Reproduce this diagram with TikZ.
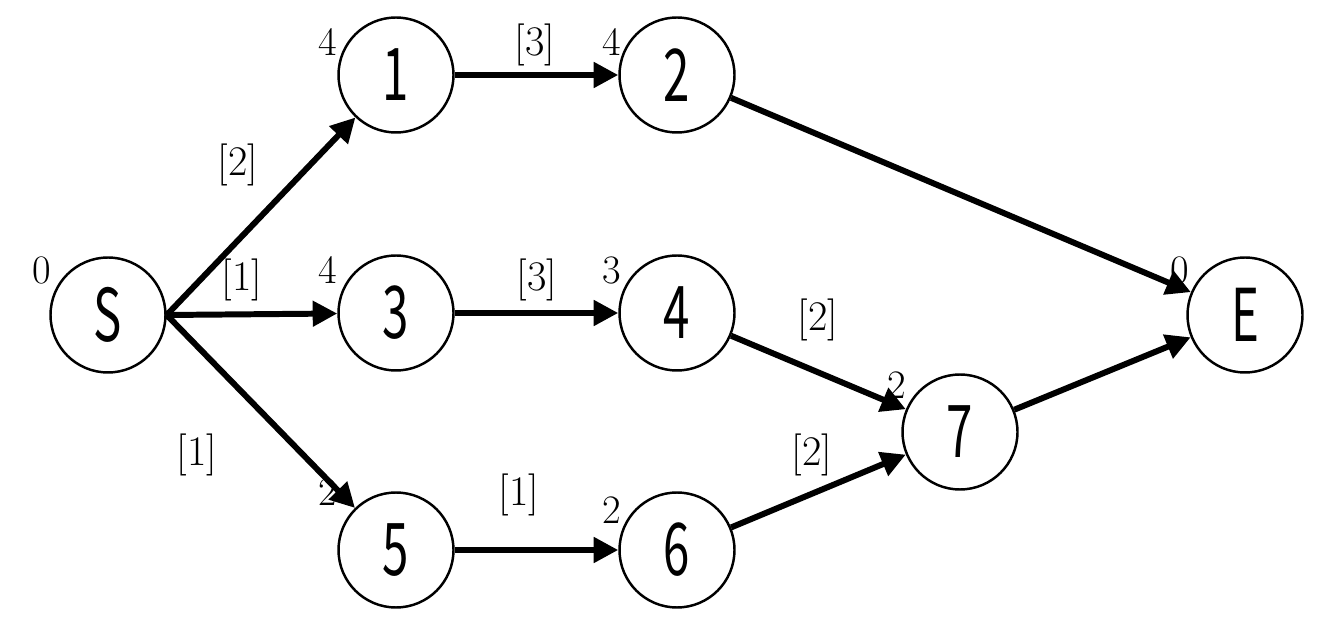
\documentclass[tikz,border=0pt]{standalone}
\usepackage{fontspec}
\newfontfamily\gothic{Noto Sans CJK JP}
\usetikzlibrary{arrows.meta}
\newcommand{\nt}[1]{\scalebox{0.75}[1.15]{#1}}
\begin{document}
\begin{tikzpicture}[x=0.02cm,y=-0.02cm,
  nd/.style={circle,draw,line width=1.4pt,minimum size=2.3cm,inner sep=0pt,font=\gothic\fontsize{36}{36}\selectfont},
  ar/.style={line width=3.4pt,-{Triangle[length=14pt,width=14pt]}},
  lb/.style={font=\fontsize{24}{24}\selectfont},
  nm/.style={font=\fontsize{23}{23}\selectfont}]
\useasboundingbox (0,0) rectangle (1329,624);
\node[nd] (S) at (108,315) {\nt{S}};
\node[nd] (n1) at (396,75) {\nt{1}};
\node[nd] (n2) at (677,75) {\nt{2}};
\node[nd] (n3) at (396,313) {\nt{3}};
\node[nd] (n4) at (677,313) {\nt{4}};
\node[nd] (n5) at (396,550) {\nt{5}};
\node[nd] (n6) at (677,550) {\nt{6}};
\node[nd] (n7) at (960,432) {\nt{7}};
\node[nd] (E) at (1245,315) {\nt{E}};
\coordinate (s0) at (S.east);
\draw[ar] (s0) -- (n1);
\draw[ar] (s0) -- (n3);
\draw[ar] (s0) -- (n5);
\draw[ar] (n1) -- (n2);
\draw[ar] (n3) -- (n4);
\draw[ar] (n5) -- (n6);
\draw[ar] (n2) -- (E);
\draw[ar] (n4) -- (n7);
\draw[ar] (n6) -- (n7);
\draw[ar] (n7) -- (E);
\node[lb] (l1) at (238,165) {[2]};
\node[lb] (l2) at (242,280) {[1]};
\node[lb] (l3) at (197,455) {[1]};
\node[lb] (l4) at (535,45) {[3]};
\node[lb] (l5) at (537,280) {[3]};
\node[lb] (l6) at (519,495) {[1]};
\node[lb] (l7) at (818,320) {[2]};
\node[lb] (l8) at (812,455) {[2]};
\node[nm] (m0) at (42,270) {0};
\node[nm] (m1) at (328,42) {4};
\node[nm] (m2) at (612,42) {4};
\node[nm] (m3) at (328,270) {4};
\node[nm] (m4) at (612,270) {3};
\node[nm] (m5) at (328,492) {2};
\node[nm] (m6) at (612,510) {2};
\node[nm] (m7) at (897,385) {2};
\node[nm] (m8) at (1180,270) {0};
\end{tikzpicture}
\end{document}
